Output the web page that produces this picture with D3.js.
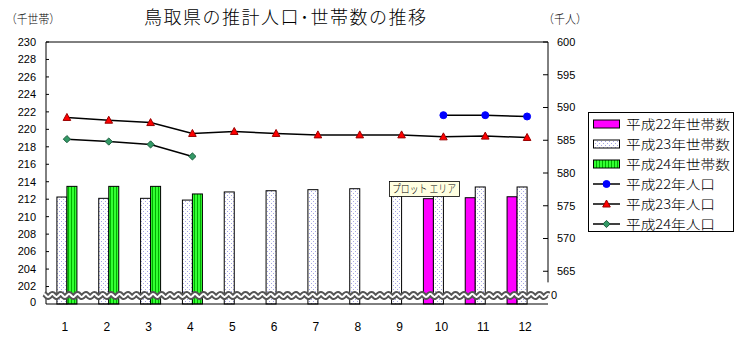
<!DOCTYPE html>
<html>
<head>
<meta charset="utf-8">
<script src="https://cdn.jsdelivr.net/npm/d3@7/dist/d3.min.js"></script>
<style>
  html, body { margin: 0; padding: 0; background: #fff; }
  svg { display: block; }
  text { font-family: "Liberation Sans", Arial, sans-serif; fill: #000; }
  .jp { font-family: "Noto Sans CJK JP", sans-serif; font-weight: 300; }
</style>
</head>
<body>
<svg id="chart" width="741" height="347"></svg>
<script>
// Months
const months = [1, 2, 3, 4, 5, 6, 7, 8, 9, 10, 11, 12];

// Households (thousand)
const households22 = [null, null, null, null, null, null, null, null, null, 212.06, 212.17, 212.28];
const households23 = [212.25, 212.1, 212.1, 211.9, 212.83, 212.97, 213.09, 213.2, 213.28, 213.4, 213.4, 213.4];
const households24 = [213.47, 213.47, 213.47, 212.6, null, null, null, null, null, null, null, null];

// Population (thousand)
const population22 = [null, null, null, null, null, null, null, null, null, 588.83, 588.83, 588.63];
const population23 = [588.48, 588.06, 587.7, 586.04, 586.34, 586.04, 585.82, 585.82, 585.82, 585.52, 585.63, 585.42];
const population24 = [585.17, 584.8, 584.36, 582.53, null, null, null, null, null, null, null, null];

// Axis ticks
const leftTicks = [202, 204, 206, 208, 210, 212, 214, 216, 218, 220, 222, 224, 226, 228, 230];
const rightTicks = [565, 570, 575, 580, 585, 590, 595, 600];

const title = "鳥取県の推計人口･世帯数の推移";
const leftUnit = "（千世帯）";
const rightUnit = "（千人）";
const barNames = ["平成22年世帯数", "平成23年世帯数", "平成24年世帯数"];
const lineNames = ["平成22年人口", "平成23年人口", "平成24年人口"];

const svg = d3.select("#chart");
const plot = { left: 46, right: 548, top: 42, bottom: 304 };

const x = d3.scaleBand().domain(months).range([plot.left, plot.right]).padding(0);
const slot = d3.scaleBand().domain([0, 1, 2, 3]).range([0, x.bandwidth()]).paddingInner(0).paddingOuter(0.09);
const yL = d3.scaleLinear().domain([200, 230]).range([plot.bottom, plot.top]);
const yR = d3.scaleLinear().domain([560, 600]).range([plot.bottom, plot.top]);

// Fill patterns
const defs = svg.append("defs");
const dots = defs.append("pattern").attr("id", "dots").attr("patternUnits", "userSpaceOnUse")
  .attr("width", 4).attr("height", 4);
dots.append("rect").attr("width", 4).attr("height", 4).attr("fill", "#fff");
dots.append("rect").attr("x", 1).attr("y", 1).attr("width", 1).attr("height", 1).attr("fill", "#a6a6e6");
dots.append("rect").attr("x", 3).attr("y", 3).attr("width", 1).attr("height", 1).attr("fill", "#a6a6e6");

const stripes = defs.append("pattern").attr("id", "stripes").attr("patternUnits", "userSpaceOnUse")
  .attr("width", 3).attr("height", 4);
stripes.append("rect").attr("width", 3).attr("height", 4).attr("fill", "#33ff33");
stripes.append("rect").attr("x", 2).attr("width", 1).attr("height", 4).attr("fill", "#00b000");

const barSeries = [
  { name: barNames[0], values: households22, fill: "#ff00ff", slot: 0 },
  { name: barNames[1], values: households23, fill: "url(#dots)", slot: 1 },
  { name: barNames[2], values: households24, fill: "url(#stripes)", slot: 2 }
];

const lineSeries = [
  { name: lineNames[0], values: population22, marker: "circle", fill: "#0000ff", stroke: "#0000ff" },
  { name: lineNames[1], values: population23, marker: "triangle", fill: "#ff0000", stroke: "#990000" },
  { name: lineNames[2], values: population24, marker: "diamond", fill: "#339966", stroke: "#1d5e3e" }
];

// Bars
barSeries.forEach(s => {
  svg.append("g").selectAll("rect")
    .data(months.map((m, i) => ({ m, v: s.values[i] })).filter(d => d.v != null))
    .join("rect")
    .attr("x", d => x(d.m) + slot(s.slot))
    .attr("y", d => yL(d.v))
    .attr("width", slot.bandwidth())
    .attr("height", d => yL(200) - yL(d.v))
    .attr("fill", s.fill)
    .attr("stroke", "#000")
    .attr("stroke-width", 1);
});

// Plot frame and axes
svg.append("line").attr("x1", plot.left).attr("x2", plot.right).attr("y1", plot.top).attr("y2", plot.top)
  .attr("stroke", "#000");
svg.append("line").attr("x1", plot.left).attr("x2", plot.left).attr("y1", plot.top).attr("y2", plot.bottom)
  .attr("stroke", "#000");
svg.append("line").attr("x1", plot.left).attr("x2", plot.right).attr("y1", plot.bottom).attr("y2", plot.bottom)
  .attr("stroke", "#000");
svg.append("line").attr("x1", plot.right).attr("x2", plot.right).attr("y1", plot.top).attr("y2", yR(563.3))
  .attr("stroke", "#000");

// Left axis
const gL = svg.append("g");
leftTicks.forEach(t => {
  gL.append("line").attr("x1", plot.left).attr("x2", plot.left + 3).attr("y1", yL(t)).attr("y2", yL(t)).attr("stroke", "#000");
  gL.append("text").attr("x", 36).attr("y", yL(t)).attr("dy", "0.35em").attr("text-anchor", "end")
    .attr("font-size", 11).text(t);
});
gL.append("text").attr("x", 36).attr("y", yL(200)).attr("dy", "0.2em").attr("text-anchor", "end")
  .attr("font-size", 11).text("0");

// Right axis
const gR = svg.append("g");
rightTicks.forEach(t => {
  gR.append("line").attr("x1", plot.right - 5).attr("x2", plot.right).attr("y1", yR(t)).attr("y2", yR(t)).attr("stroke", "#000");
  gR.append("text").attr("x", 557).attr("y", yR(t)).attr("dy", "0.35em")
    .attr("font-size", 11).text(t);
});
gR.append("text").attr("x", 551).attr("y", yR(561.4)).attr("dy", "0.35em")
  .attr("font-size", 11).text("0");

// Category labels
svg.append("g").selectAll("text").data(months).join("text")
  .attr("x", d => x(d) + x.bandwidth() / 2 - 2)
  .attr("y", 327)
  .attr("dy", "0.35em")
  .attr("text-anchor", "middle")
  .attr("font-size", 12)
  .text(d => d);

// Axis break (wavy double line)
const waveY = 295.5;
const wavePts = d3.range(plot.left - 2, plot.right + 2, 1).map(px => [px, waveY + 1.6 * Math.sin((px - plot.left) * 2 * Math.PI / 8.4)]);
const wave = d3.line().curve(d3.curveBasis)(wavePts);
svg.append("path").attr("d", wave).attr("fill", "none").attr("stroke", "#555").attr("stroke-width", 6);
svg.append("path").attr("d", wave).attr("fill", "none").attr("stroke", "#fff").attr("stroke-width", 2);

// Markers
function drawMarker(g, type, cx, cy, fill, stroke) {
  if (type === "circle") {
    g.append("circle").attr("cx", cx).attr("cy", cy).attr("r", 3.5).attr("fill", fill).attr("stroke", stroke);
  } else if (type === "triangle") {
    g.append("path").attr("d", `M${cx},${cy - 4}L${cx + 3.8},${cy + 3}L${cx - 3.8},${cy + 3}Z`)
      .attr("fill", fill).attr("stroke", stroke).attr("stroke-width", 1);
  } else {
    g.append("path").attr("d", `M${cx},${cy - 3.6}L${cx + 3.6},${cy}L${cx},${cy + 3.6}L${cx - 3.6},${cy}Z`)
      .attr("fill", fill).attr("stroke", stroke).attr("stroke-width", 1);
  }
}

// Lines
lineSeries.forEach(s => {
  const pts = months.map((m, i) => ({ m, v: s.values[i] })).filter(d => d.v != null);
  const line = d3.line().x(d => x(d.m) + x.bandwidth() / 2).y(d => yR(d.v));
  svg.append("path").attr("d", line(pts)).attr("fill", "none").attr("stroke", "#000").attr("stroke-width", 1.5);
  const g = svg.append("g");
  pts.forEach(d => drawMarker(g, s.marker, x(d.m) + x.bandwidth() / 2, yR(d.v), s.fill, s.stroke));
});

// Title and unit labels
svg.append("text").attr("class", "jp").attr("x", 285).attr("y", 24).attr("text-anchor", "middle")
  .attr("font-size", 18).attr("textLength", 282).attr("lengthAdjust", "spacing").text(title);
svg.append("text").attr("class", "jp").attr("x", 6).attr("y", 24).attr("font-size", 12)
  .attr("textLength", 54).attr("lengthAdjust", "spacingAndGlyphs").text(leftUnit);
svg.append("text").attr("class", "jp").attr("x", 543).attr("y", 24).attr("font-size", 12)
  .attr("textLength", 44).attr("lengthAdjust", "spacingAndGlyphs").text(rightUnit);

// Legend
const lg = svg.append("g");
lg.append("rect").attr("x", 588.5).attr("y", 112.5).attr("width", 145).attr("height", 119)
  .attr("fill", "#fff").attr("stroke", "#000");
const rowY = i => 124 + i * 20;
barSeries.forEach((s, i) => {
  lg.append("rect").attr("x", 593.5).attr("y", rowY(i) - 4).attr("width", 26).attr("height", 8)
    .attr("fill", s.fill).attr("stroke", "#000");
  lg.append("text").attr("class", "jp").attr("x", 626).attr("y", rowY(i)).attr("dy", "0.36em")
    .attr("font-size", 13).attr("textLength", 104).attr("lengthAdjust", "spacingAndGlyphs").text(s.name);
});
lineSeries.forEach((s, j) => {
  const i = j + 3;
  lg.append("line").attr("x1", 593).attr("x2", 620).attr("y1", rowY(i)).attr("y2", rowY(i)).attr("stroke", "#000").attr("stroke-width", 1.5);
  drawMarker(lg, s.marker, 606.5, rowY(i), s.fill, s.stroke);
  lg.append("text").attr("class", "jp").attr("x", 626).attr("y", rowY(i)).attr("dy", "0.36em")
    .attr("font-size", 13).attr("textLength", 89).attr("lengthAdjust", "spacingAndGlyphs").text(s.name);
});

// Hover label over the plot area
const tip = svg.append("g");
tip.append("rect").attr("x", 389.5).attr("y", 181.5).attr("width", 70).attr("height", 15)
  .attr("fill", "#ffffe1").attr("stroke", "#000").attr("stroke-width", 0.8);
tip.append("text").attr("class", "jp").attr("x", 392).attr("y", 189).attr("dy", "0.36em")
  .attr("font-size", 11).attr("textLength", 64).attr("lengthAdjust", "spacingAndGlyphs").text("プロット エリア");
</script>
</body>
</html>
